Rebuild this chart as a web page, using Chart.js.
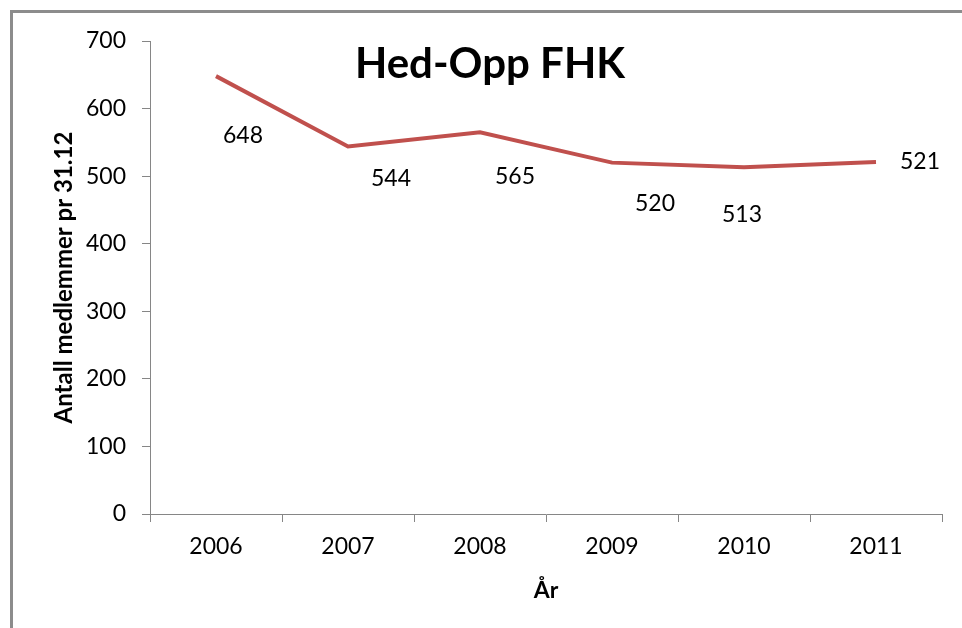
<!DOCTYPE html>
<html>
<head>
<meta charset="utf-8">
<script src="https://cdn.jsdelivr.net/npm/chart.js@4/dist/chart.umd.min.js"></script>
<style>
  html, body { margin: 0; padding: 0; background: #fff; }
  #wrap { width: 962px; height: 628px; position: relative; }
</style>
</head>
<body>
<div id="wrap"><canvas id="chart"></canvas></div>
<script>
const years = ["2006", "2007", "2008", "2009", "2010", "2011"];
const members = [648, 544, 565, 520, 513, 521];
const yTicks = [0, 100, 200, 300, 400, 500, 600, 700];

// where Excel put each data label, relative to its point
const labelOffsets = [[27, 59], [43, 32], [35, 44], [43, 41], [-2, 47], [44, 0]];

const fontFamily = "Lato, 'Open Sans', sans-serif";
const axisGray = "#868686";

const framePlugin = {
  id: "frame",
  beforeDraw(chart) {
    const ctx = chart.ctx;
    ctx.save();
    ctx.fillStyle = "#fff";
    ctx.fillRect(0, 0, chart.width, chart.height);
    ctx.fillStyle = "#8c8c8c";
    ctx.fillRect(10, 10, chart.width - 10, 3);
    ctx.fillRect(10, 10, 3, chart.height - 10);
    ctx.restore();
  },
  afterDatasetsDraw(chart) {
    const ctx = chart.ctx;
    const meta = chart.getDatasetMeta(0);
    ctx.save();
    ctx.fillStyle = "#000";
    ctx.font = "23px " + fontFamily;
    ctx.textAlign = "center";
    ctx.textBaseline = "middle";
    meta.data.forEach((pt, i) => {
      const off = labelOffsets[i];
      ctx.fillText(String(members[i]), pt.x + off[0], pt.y + off[1]);
    });
    ctx.font = "bold 42px " + fontFamily;
    ctx.fillText("Hed-Opp FHK", 490, 64);
    ctx.restore();
  }
};

new Chart(document.getElementById("chart"), {
  type: "line",
  data: {
    labels: years,
    datasets: [{
      data: members,
      borderColor: "#C0504D",
      borderWidth: 4,
      pointRadius: 0,
      tension: 0,
      fill: false
    }]
  },
  options: {
    responsive: true,
    maintainAspectRatio: false,
    animation: false,
    layout: { padding: { left: 50, top: 41, right: 20, bottom: 14 } },
    plugins: {
      legend: { display: false },
      tooltip: { enabled: false }
    },
    scales: {
      x: {
        offset: true,
        grid: {
          offset: true,
          drawOnChartArea: false,
          color: axisGray,
          tickLength: 8
        },
        border: { color: axisGray, width: 1 },
        ticks: { color: "#000", font: { family: fontFamily, size: 23 }, padding: 11 },
        title: {
          display: true,
          text: "År",
          color: "#000",
          font: { family: fontFamily, size: 23, weight: "bold" },
          padding: { top: 10, bottom: 10 }
        },
        afterFit(scale) { scale.height = 100; }
      },
      y: {
        min: 0,
        max: 700,
        afterBuildTicks(scale) { scale.ticks = yTicks.map(v => ({ value: v })); },
        grid: {
          drawOnChartArea: false,
          color: axisGray,
          tickLength: 8
        },
        border: { color: axisGray, width: 1 },
        ticks: { color: "#000", font: { family: fontFamily, size: 23 }, padding: 16 },
        title: {
          display: true,
          text: "Antall medlemmer pr 31.12",
          color: "#000",
          font: { family: fontFamily, size: 24, weight: "bold" },
          padding: { top: 0, bottom: 0 }
        },
        afterFit(scale) { scale.width = 100; }
      }
    }
  },
  plugins: [framePlugin]
});
</script>
</body>
</html>
